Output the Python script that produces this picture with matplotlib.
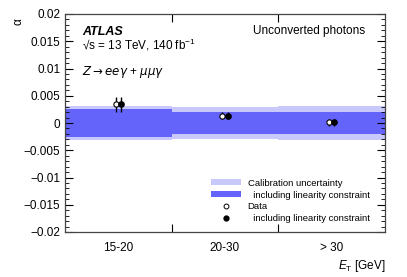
import matplotlib
matplotlib.use("Agg")
import matplotlib.pyplot as plt
from matplotlib.ticker import MultipleLocator
from matplotlib.patches import Patch
from matplotlib.lines import Line2D
import numpy as np

plt.rcParams["font.family"] = ["Liberation Sans", "DejaVu Sans"]
plt.rcParams["mathtext.fontset"] = "custom"
plt.rcParams["mathtext.rm"] = "Liberation Sans"
plt.rcParams["mathtext.it"] = "Liberation Sans:italic"

categories = ["15-20", "20-30", "> 30"]
calib_unc = [0.0031, 0.0029, 0.0031]
calib_unc_lin = [0.0025, 0.0020, 0.0020]
data_alpha = [0.0034, 0.00135, 0.0001]
data_err = [0.0013, 0.0007, 0.0006]
data_lin_alpha = [0.0034, 0.00135, 0.0001]
data_lin_err = [0.0013, 0.0007, 0.0006]

light = "#c8c8fa"
dark = "#6464fa"

fig = plt.figure(figsize=(4.07, 2.77), dpi=100)
ax = fig.add_axes([65/407, 1-232/277, 320/407, 218/277])

n = len(categories)
for i in range(n):
    ax.fill_between([i, i+1], [-calib_unc[i]]*2, [calib_unc[i]]*2, color=light, lw=0)
    ax.fill_between([i, i+1], [-calib_unc_lin[i]]*2, [calib_unc_lin[i]]*2, color=dark, lw=0)

x = np.arange(n) + 0.5
ax.errorbar(x - 0.025, data_alpha, yerr=data_err, fmt="o", mfc="white", mec="black",
            ecolor="black", ms=3.8, elinewidth=1, capsize=0, mew=0.8, zorder=5)
ax.errorbar(x + 0.025, data_lin_alpha, yerr=data_lin_err, fmt="o", mfc="black", mec="black",
            ecolor="black", ms=3.8, elinewidth=1, capsize=0, zorder=6)

ax.set_xlim(0, n)
ax.set_ylim(-0.02, 0.02)
ax.set_xticks([1, 2])
ax.set_xticks(x, minor=True)
ax.set_xticklabels([])
ax.set_xticklabels(categories, minor=True)
ax.tick_params(axis="x", which="minor", length=0, labelsize=8.5, pad=7)
ax.tick_params(axis="x", which="major", direction="in", top=True, length=6, width=0.8)
ax.yaxis.set_minor_locator(MultipleLocator(0.001))
ax.set_yticks(np.arange(-0.02, 0.0201, 0.005))
ax.set_yticklabels(["\u22120.02", "\u22120.015", "\u22120.01", "\u22120.005", "0",
                    "0.005", "0.01", "0.015", "0.02"])
ax.tick_params(axis="y", which="major", direction="in", right=True, length=6, width=0.8, labelsize=8.5)
ax.tick_params(axis="y", which="minor", direction="in", right=True, length=3, width=0.6)
for s in ax.spines.values():
    s.set_color("#444444")
    s.set_linewidth(0.9)

fig.text(18/407, 1-22/277, "\u03b1", rotation=90, fontsize=8.5, ha="center", va="center")
fig.text(386/407, 1-266/277, r"$E_{\rm T}$ [GeV]", fontsize=8.5, ha="right", va="center")

fig.text(82/407, 1-32/277, "ATLAS", fontsize=9, fontweight="bold", fontstyle="italic", va="center")
fig.text(82/407, 1-45/277, "\u221as = 13 TeV, 140 fb$^{-1}$", fontsize=8.5, va="center")
fig.text(82/407, 1-72/277, r"$Z \rightarrow ee\gamma$ + $\mu\mu\gamma$", fontsize=8.5,
         va="center", math_fontfamily="dejavusans")
fig.text(365/407, 1-31/277, "Unconverted photons", fontsize=8.5, ha="right", va="center")

handles = [Patch(color=light, lw=0), Patch(color=dark, lw=0),
           Line2D([], [], marker="o", ls="", mfc="white", mec="black", ms=3.5, mew=0.7),
           Line2D([], [], marker="o", ls="", mfc="black", mec="black", ms=3.5)]
labels = ["Calibration uncertainty", "  including linearity constraint", "Data",
          "  including linearity constraint"]
leg = ax.legend(handles, labels, loc="lower left", bbox_to_anchor=(206/407, 1-228/277),
                bbox_transform=fig.transFigure, frameon=False, fontsize=6.8,
                handlelength=3.2, handleheight=0.6, labelspacing=0.3, borderpad=0,
                handletextpad=0.7)

fig.savefig("out.png", dpi=100)
